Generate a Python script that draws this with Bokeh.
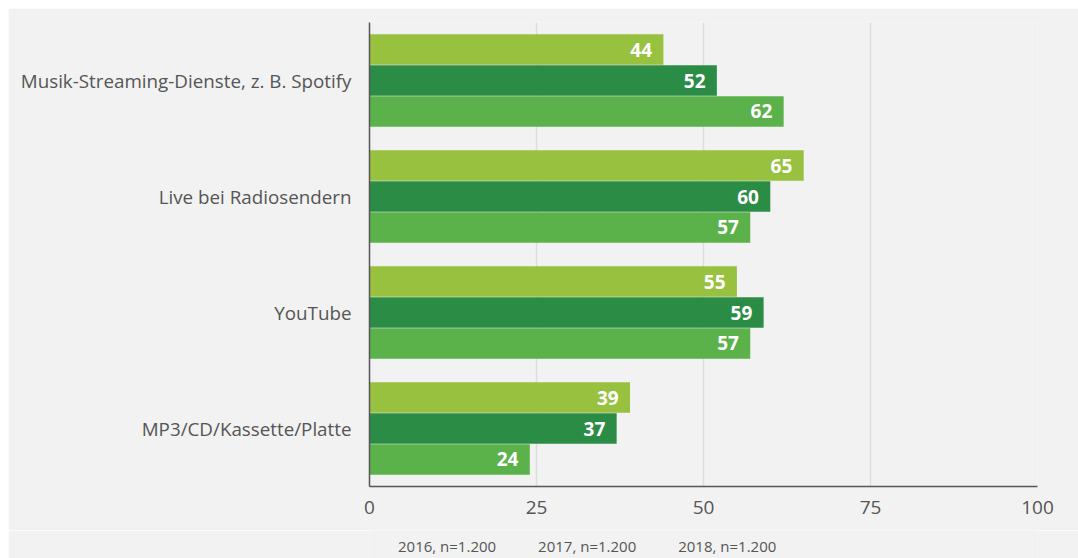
from bokeh.plotting import figure
from bokeh.layouts import column
from bokeh.models import ColumnDataSource, FactorRange, Legend, LegendItem, Range1d, FixedTicker
from bokeh.transform import dodge
from bokeh.core.properties import value
from bokeh.embed import file_html
from bokeh.resources import INLINE

categories = ["Musik-Streaming-Dienste, z. B. Spotify", "Live bei Radiosendern", "YouTube", "MP3/CD/Kassette/Platte"]
v2016 = [44, 65, 55, 39]
v2017 = [52, 60, 59, 37]
v2018 = [62, 57, 57, 24]
series_labels = ["2016, n=1.200", "2017, n=1.200", "2018, n=1.200"]
x_ticks = [0, 25, 50, 75, 100]

colors = ["#98c140", "#2b8c46", "#5bb24a"]
FONT = "Open Sans"
BG = "#f2f2f2"

src = ColumnDataSource(dict(
    cat=categories, v2016=v2016, v2017=v2017, v2018=v2018,
    t2016=[str(v) for v in v2016], t2017=[str(v) for v in v2017], t2018=[str(v) for v in v2018],
    x2016=[v - 1.7 for v in v2016], x2017=[v - 1.7 for v in v2017], x2018=[v - 1.7 for v in v2018],
))

p = figure(frame_width=668, frame_height=464, output_backend="svg", toolbar_location=None,
           y_range=FactorRange(factors=categories[::-1], range_padding=0, factor_padding=0),
           x_range=Range1d(0, 100), margin=(8, 0, 0, 8),
           min_border_left=361, min_border_right=41, min_border_top=14, min_border_bottom=44)
p.background_fill_color = BG
p.border_fill_color = BG
p.outline_line_color = None

h = 0.262
offs = [0.267, 0.0, -0.267]
keys = ["2016", "2017", "2018"]
for k, off, c in zip(keys, offs, colors):
    p.hbar(y=dodge("cat", off, range=p.y_range), right="v" + k, left=0, height=h,
           color=c, line_color=None, source=src)
    p.text(x="x" + k, y=dodge("cat", off, range=p.y_range), text="t" + k, source=src,
           text_color="white", text_font=value(FONT), text_font_style="bold",
           text_font_size="19px", text_align="right", text_baseline="middle")

p.ygrid.grid_line_color = None
p.xgrid.grid_line_color = "#dcdcdc"
p.xgrid.grid_line_width = 1.5
p.xaxis.ticker = FixedTicker(ticks=x_ticks)

for ax in (p.xaxis, p.yaxis):
    ax.major_tick_line_color = None
    ax.minor_tick_line_color = None
    ax.major_tick_out = 0
    ax.major_tick_in = 0
    ax.axis_line_color = "#555555"
    ax.axis_line_width = 1.5
    ax.major_label_text_font = FONT
    ax.major_label_text_color = "#555555"
p.yaxis.major_label_text_font_size = "18.8px"
p.xaxis.major_label_text_font_size = "19px"
p.yaxis.major_label_standoff = 18
p.xaxis.major_label_standoff = 14

# legend strip below the chart (its frame is aligned with the chart's frame)
lf = figure(width=1070, height=28, output_backend="svg", toolbar_location=None,
            x_range=Range1d(0, 1), y_range=Range1d(0, 1),
            x_axis_type=None, y_axis_type=None, margin=(0, 0, 0, 8),
            min_border=0, min_border_left=0, min_border_right=0, min_border_top=0, min_border_bottom=0)
lf.background_fill_color = BG
lf.border_fill_color = BG
lf.outline_line_color = None
lf.grid.visible = False

leg_renderers = []
for c in colors:
    leg_renderers.append(lf.hbar(y=[], right=[], left=[], height=0.1, color=c, line_color=None))

legend = Legend(items=[LegendItem(label=l, renderers=[r]) for l, r in zip(series_labels, leg_renderers)],
                orientation="horizontal", location=(15, 2),
                glyph_width=10, glyph_height=10, label_standoff=4, spacing=28, label_height=18,
                label_text_font=FONT, label_text_font_size="15px", label_text_color="#555555",
                background_fill_alpha=0, border_line_color=None, padding=4, margin=0)
lf.add_layout(legend, "center")

layout = column(p, lf, spacing=0)
open("out.html", "w").write(file_html(layout, INLINE))
